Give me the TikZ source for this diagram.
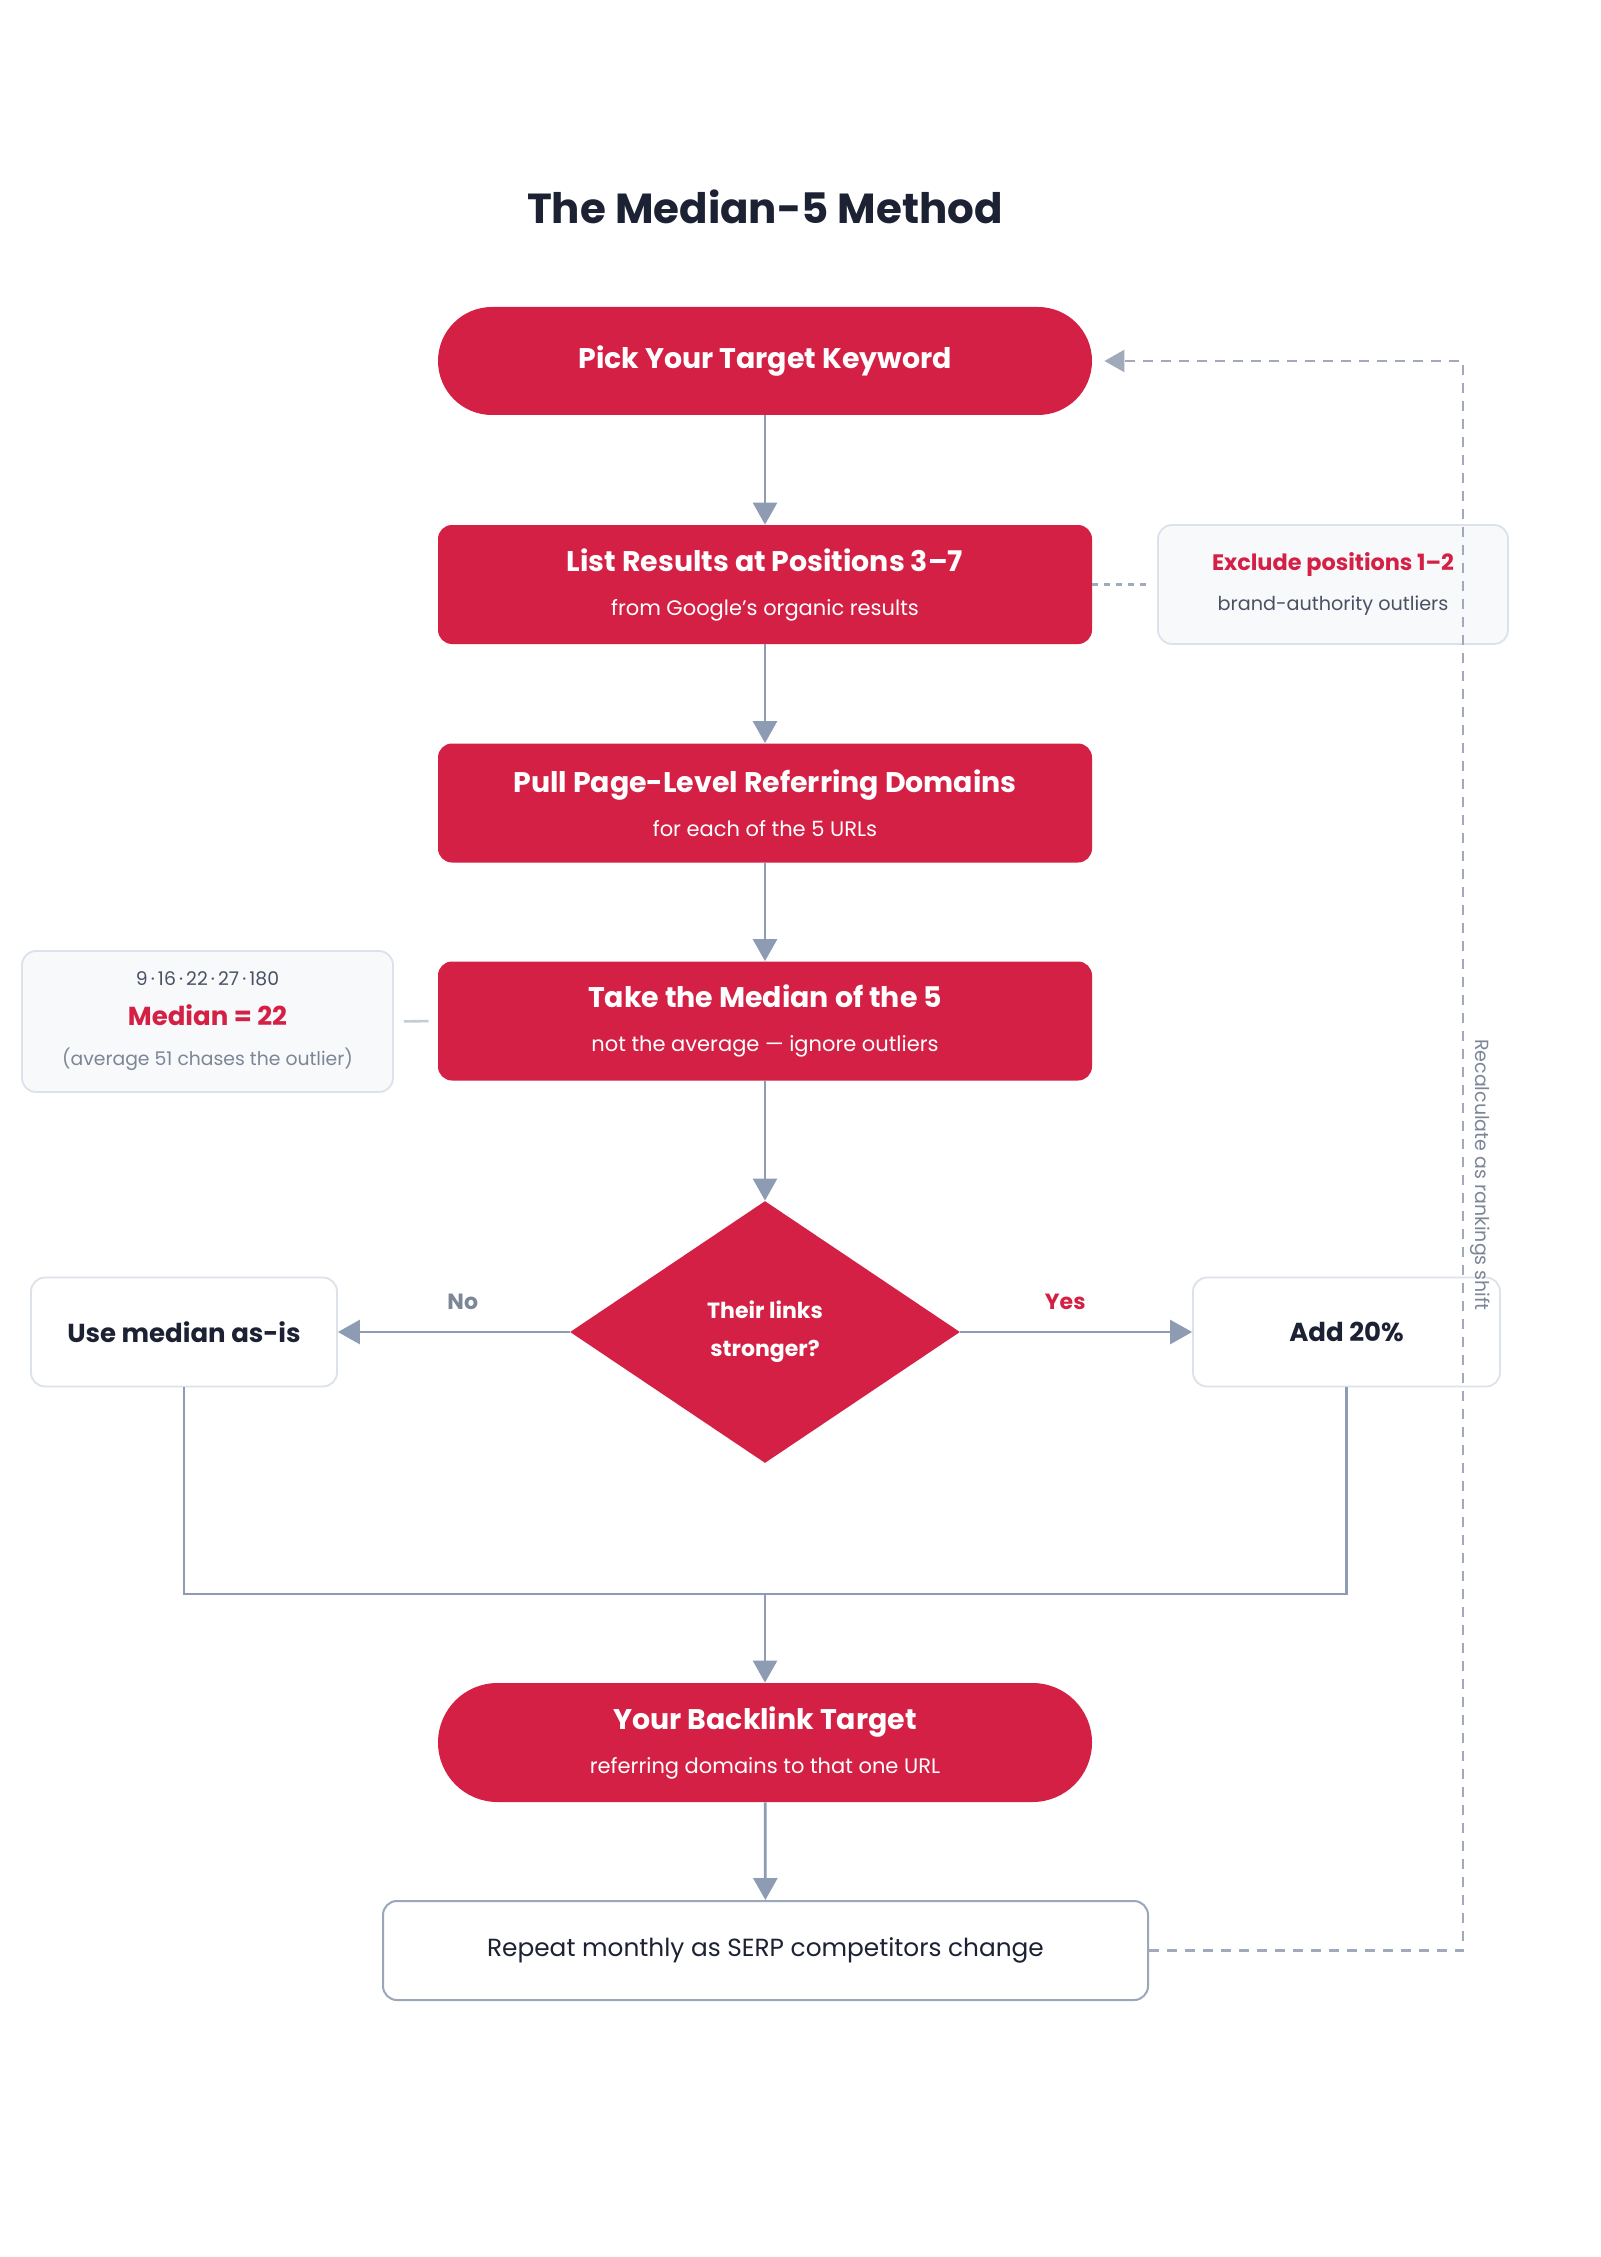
\documentclass[tikz,border=0pt]{standalone}
\usepackage{fontspec}
\setmainfont{Poppins}
\usetikzlibrary{shapes.geometric,arrows.meta,calc}
\definecolor{brandred}{HTML}{D42045}
\definecolor{inkdark}{HTML}{1C2133}
\definecolor{arrowgray}{HTML}{8E9CB3}
\definecolor{dashgray}{HTML}{A0AABB}
\definecolor{sideborder}{HTML}{DCE2EA}
\definecolor{sidefill}{HTML}{F7F9FB}
\definecolor{boxborder}{HTML}{9AA6BA}
\definecolor{midgray}{HTML}{4A5163}
\definecolor{lightgray}{HTML}{7C8697}
\definecolor{stubgray}{HTML}{C5CCD6}
\begin{document}
\begin{tikzpicture}[x=0.5pt,y=-0.5pt,
  redpill/.style={draw=none,fill=brandred,text=white,rounded corners=27pt,
    minimum width=327pt,minimum height=54pt,inner sep=0pt,align=center},
  redbox/.style={draw=none,fill=brandred,text=white,rounded corners=7pt,
    minimum width=327pt,minimum height=59.5pt,inner sep=0pt,align=center,
    font=\fontsize{10.5}{22}\selectfont},
  sidebox/.style={draw=sideborder,line width=0.9pt,fill=sidefill,rounded corners=7pt,
    inner sep=0pt,align=center},
  whitebox/.style={draw=sideborder,line width=0.9pt,fill=white,rounded corners=7pt,
    inner sep=0pt,align=center,text=inkdark},
  ttl/.style={font=\fontsize{14.2}{22}\selectfont\bfseries},
  arr/.style={draw=arrowgray,line width=1.4pt,-{Triangle[width=12pt,length=11pt]}},
  plainline/.style={draw=arrowgray,line width=1.4pt},
  loopline/.style={draw=dashgray,line width=1.1pt,dash pattern=on 5pt off 4pt},
  shortdash/.style={draw=dashgray,line width=1.1pt,dash pattern=on 3pt off 3pt},
  lbl/.style={font=\fontsize{11}{13}\selectfont\bfseries}
]
\useasboundingbox[fill=white] (0,0) rectangle (1600,2257);

% title
\node[text=inkdark,font=\fontsize{21}{25}\selectfont\bfseries] (title) at (765,207) {The Median-5 Method};

% main column
\node[redpill,ttl] (pick) at (765,361) {Pick Your Target Keyword};
\node[redbox] (list) at (765,584.5) {{\fontsize{14.2}{22}\selectfont\bfseries List Results at Positions 3–7}\\from Google’s organic results};
\node[redbox] (pull) at (765,803) {{\fontsize{14.2}{22}\selectfont\bfseries Pull Page-Level Referring Domains}\\for each of the 5 URLs};
\node[redbox] (take) at (765,1021) {{\fontsize{14.2}{22}\selectfont\bfseries Take the Median of the 5}\\not the average — ignore outliers};
\node[diamond,fill=brandred,text=white,minimum width=195pt,minimum height=131pt,inner sep=0pt,
  align=center,font=\fontsize{11}{19}\selectfont\bfseries] (dia) at (765,1332) {Their links\\stronger?};
\node[whitebox,minimum width=153pt,minimum height=54.5pt,font=\fontsize{13}{15}\selectfont\bfseries] (usemed) at (184,1332) {Use median as-is};
\node[whitebox,minimum width=153.5pt,minimum height=54.5pt,font=\fontsize{13}{15}\selectfont\bfseries] (addtw) at (1346.5,1332) {Add 20\%};
\node[redbox,rounded corners=29.75pt] (back) at (765,1742.5) {{\fontsize{14.2}{22}\selectfont\bfseries Your Backlink Target}\\referring domains to that one URL};
\node[whitebox,draw=boxborder,line width=1pt,minimum width=382.5pt,minimum height=49.5pt,
  font=\fontsize{12.4}{14}\selectfont] (repeat) at (765.5,1950.5) {Repeat monthly as SERP competitors change};

% side notes
\node[sidebox,minimum width=175pt,minimum height=59.5pt,font=\fontsize{9.6}{20}\selectfont,text=midgray] (excl) at (1333,584.5)
  {{\fontsize{11.2}{20}\selectfont\bfseries\color{brandred}Exclude positions 1–2}\\brand-authority outliers};
\node[sidebox,minimum width=185.5pt,minimum height=70.5pt,font=\fontsize{9.4}{20}\selectfont,text=lightgray] (medbox) at (207.5,1021.5)
  {{\color{midgray}9\,·\,16\,·\,22\,·\,27\,·\,180}\\{\fontsize{13}{20}\selectfont\bfseries\color{brandred}Median = 22}\\(average 51 chases the outlier)};

% connectors
\draw[arr] (pick) -- (list);
\draw[arr] (list) -- (pull);
\draw[arr] (pull) -- (take);
\draw[arr] (take) -- (dia);
\draw[arr] (dia.west) -- node[midway,xshift=4.5pt,yshift=15pt,lbl,text=lightgray] (nolbl) {No} (usemed.east);
\draw[arr] (dia.east) -- node[midway,xshift=-5.5pt,yshift=15pt,lbl,text=brandred] (yeslbl) {Yes} (addtw.west);
\coordinate (merge) at (765,1594);
\draw[plainline] (usemed.south) |- (merge) -| (addtw.south);
\draw[arr] (merge) -- (back);
\draw[arr] (back) -- (repeat);

\draw[shortdash,shorten >=5.5pt] (list.east) -- (excl.west);
\draw[draw=stubgray,line width=1.3pt,shorten <=5pt,shorten >=4.5pt] (medbox.east) -- (take.west);

% feedback loop
\coordinate (loopx) at (1463,0);
\draw[loopline,-{Triangle[width=11pt,length=10pt]},shorten >=6pt] (repeat.east) -| (loopx |- pick.east) -- (pick.east);
\node[rotate=-90,text=lightgray,font=\fontsize{9.5}{11}\selectfont] (recalc) at (1480,1175) {Recalculate as rankings shift};
\end{tikzpicture}
\end{document}
